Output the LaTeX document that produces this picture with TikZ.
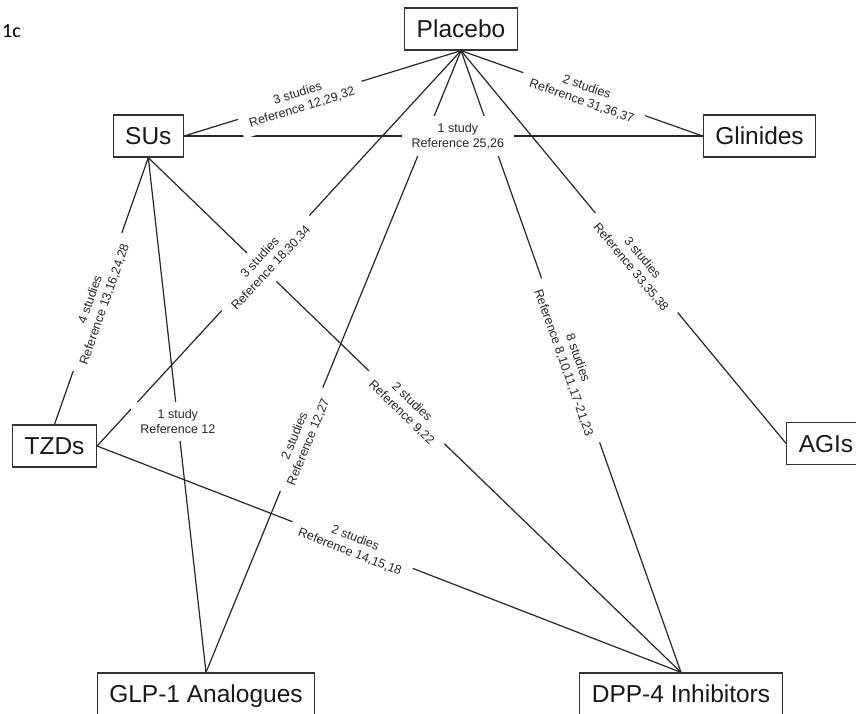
\documentclass[tikz,border=0pt]{standalone}
\usepackage{fontspec}
\setmainfont{Liberation Sans}
\newfontfamily\capfont{Carlito}
\begin{document}
\begin{tikzpicture}[x=1pt,y=-1pt,
  box/.style={draw=black!80, line width=1.3pt, fill=white, text=black!90,
    font=\fontsize{24.5}{29}\selectfont, inner xsep=12pt, inner ysep=0pt,
    minimum height=42pt, text height=17.5pt, text depth=0pt},
  link/.style={draw=black!85, line width=1.2pt},
  lbl/.style={fill=white, text=black!85, font=\fontsize{12.5}{15}\selectfont,
    align=center, inner xsep=9.5pt, inner ysep=7.5pt},
  lbls/.style={lbl, sloped}]
\useasboundingbox (0,0) rectangle (856,713);

% panel tag
\node[font=\capfont\fontsize{20}{24}\selectfont, anchor=base west, inner sep=0pt] (tag) at (2,37) {1c};

% treatments
\node[box] (placebo)  at (461,29)    {Placebo};
\node[box] (sus)      at (148.3,136) {SUs};
\node[box] (glinides) at (759.5,136) {Glinides};
\node[box] (tzds)     at (54.5,446)  {TZDs};
\node[box] (agis)     at (826,443.5) {AGIs};
\node[box] (glp)      at (206,694)   {GLP-1 Analogues};
\node[box] (dpp)      at (681,694)   {DPP-4 Inhibitors};

% comparisons
\draw[link] (sus.east)   -- (placebo.south);
\draw[link] (placebo.south) -- (glinides.west);
\draw[link] (sus.east)   -- (glinides.west);
\draw[link] (tzds.east)  -- (placebo.south);
\draw[link] (tzds.north) -- (sus.south);
\draw[link] (sus.south)  -- (glp.north);
\draw[link] (sus.south)  -- (dpp.north);
\draw[link] (glp.north)  -- (placebo.south);
\draw[link] (placebo.south) -- (dpp.north);
\draw[link] (placebo.south) -- (agis.west);
\draw[link] (tzds.east)  -- (dpp.north);

% study counts, laid over the lines
\path (sus.east) -- (placebo.south)
  node[lbls, pos=0.418] (l-sus-pla) {3 studies\\Reference 12,29,32};
\path (placebo.south) -- (glinides.west)
  node[lbls, pos=0.51] (l-pla-gli) {2 studies\\Reference 31,36,37};
\path (sus.east) -- (glinides.west)
  node[lbls, pos=0.528] (l-sus-gli) {1 study\\Reference 25,26};
\path (tzds.east) -- (placebo.south)
  node[lbls, pos=0.463] (l-tzd-pla) {3 studies\\Reference 18,30,34};
\path (tzds.north) -- (sus.south)
  node[lbls, pos=0.459] (l-tzd-sus) {4 studies\\Reference 13,16,24,28};
\path (sus.south) -- (glp.north)
  node[lbl, pos=0.512] (l-sus-glp) {1 study\\Reference 12};
\path (sus.south) -- (dpp.north)
  node[lbls, pos=0.485] (l-sus-dpp) {2 studies\\Reference 9,22};
\path (glp.north) -- (placebo.south)
  node[lbls, pos=0.375] (l-glp-pla) {2 studies\\Reference 12,27};
\path (placebo.south) -- (dpp.north)
  node[lbls, pos=0.498] (l-pla-dpp) {8 studies\\Reference 8,10,11,17-21,23};
\path (placebo.south) -- (agis.west)
  node[lbls, pos=0.54] (l-pla-agi) {3 studies\\Reference 33,35,38};
\path (tzds.east) -- (dpp.north)
  node[lbls, pos=0.4376] (l-tzd-dpp) {2 studies\\Reference 14,15,18};
\end{tikzpicture}
\end{document}
